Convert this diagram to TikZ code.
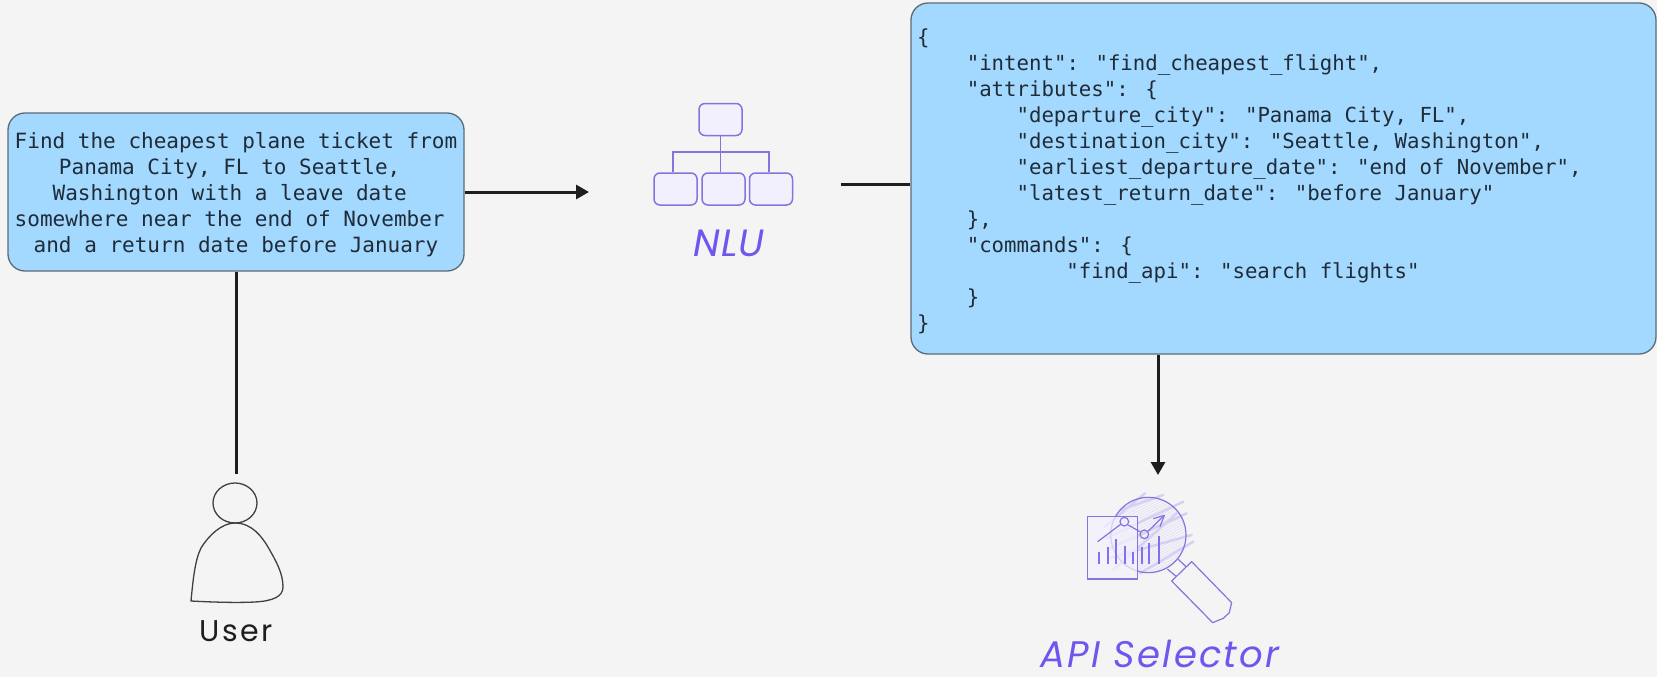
\documentclass[tikz,border=0pt]{standalone}
\usepackage{fontspec}
\usetikzlibrary{arrows.meta}
\newfontfamily\codefont{DejaVu Sans Mono}
\newfontfamily\handfont{Poppins}
\definecolor{bgcol}{HTML}{F4F4F4}
\definecolor{boxblue}{HTML}{A3D8FF}
\definecolor{boxedge}{HTML}{5C6B78}
\definecolor{inkcol}{HTML}{1E1E1E}
\definecolor{textcol}{HTML}{1F2C38}
\definecolor{violet}{HTML}{6E56EE}
\definecolor{iconline}{HTML}{8674DE}
\definecolor{iconfill}{HTML}{F3F0FD}
\definecolor{hatchcol}{HTML}{D6CFF3}
\newcommand{\ind}[1]{\hspace*{\dimexpr#1\dimexpr12.64pt\relax\relax}\kern0pt}
\newcommand{\jind}[1]{\hspace*{\dimexpr#1\dimexpr12.45pt\relax\relax}\kern0pt}
\tikzset{
  bluebox/.style={draw=boxedge,line width=1.3pt,fill=boxblue,rounded corners=17pt,inner sep=0pt,text=textcol,
    font=\codefont\fontsize{21}{26}\selectfont},
  link/.style={draw=inkcol,line width=3pt},
  arrowlink/.style={link,-{Triangle[length=13pt,width=14pt]}},
  orgbox/.style={draw=iconline,line width=1.5pt,fill=iconfill,rounded corners=6pt,inner sep=0pt,minimum height=32pt},
  orgline/.style={draw=iconline,line width=1.6pt},
  handlabel/.style={inner sep=0pt,text=violet},
  glass/.style={draw=iconline,line width=1.2pt},
  bar/.style={draw=violet!85!white,line width=2.2pt},
}
\begin{document}
\begin{tikzpicture}[x=1pt,y=-1pt]
\useasboundingbox (0,0) rectangle (1657,677);
\fill[bgcol] (0,0) rectangle (1657,677);

% text boxes
\node[bluebox,minimum width=456pt,minimum height=158pt,text width=452pt,align=flush center] (query) at (236,192) {%
\rule{0pt}{20.5pt}Find the cheapest plane ticket from\\
Panama City, FL to Seattle,\ind{1}\\
Washington with a leave date\ind{1}\\
somewhere near the end of November\ind{1}\\
and a return date before January};

\node[bluebox,minimum width=745pt,minimum height=351pt,text width=733pt,align=flush left,
      font=\codefont\fontsize{20.7}{26}\selectfont] (json) at (1283.5,178.5) {%
\rule{0pt}{20.5pt}\{\\
\jind{4}"intent": "find\_cheapest\_flight",\\
\jind{4}"attributes": \{\\
\jind{8}"departure\_city": "Panama City, FL",\\
\jind{8}"destination\_city": "Seattle, Washington",\\
\jind{8}"earliest\_departure\_date": "end of November",\\
\jind{8}"latest\_return\_date": "before January"\\
\jind{4}\},\\
\jind{4}"commands": \{\\
\jind{12}"find\_api": "search flights"\\
\jind{4}\}\\
\}};

% NLU icon
\node[orgbox,minimum width=43pt] (top) at (720.5,119.5) {};
\node[orgbox,minimum width=43pt] (b1) at (675.5,189) {};
\node[orgbox,minimum width=43pt] (b2) at (723.5,189) {};
\node[orgbox,minimum width=43pt] (b3) at (771,189) {};
\coordinate (busc) at (top.south |- 0,152);
\draw[orgline] (top.south) -- (busc);
\draw[orgline] (b1.north -| 673,0) -- (673,152) -- (769,152) -- (b3.north -| 769,0);
\draw[orgline] (busc) -- (b2.north -| busc);
\node[handlabel,font=\handfont\itshape\fontsize{38}{42}\selectfont\addfontfeature{LetterSpace=3}] (nlu) at (729,243) {NLU};

% user icon
\draw[draw=inkcol!85,line width=1.3pt] (235,503) ellipse [x radius=22,y radius=20];
\draw[draw=inkcol!85,line width=1.3pt,line join=round]
  (191,601) .. controls (193,580) and (195,560) .. (201,548)
  .. controls (209,535) and (222,523) .. (235,523)
  .. controls (252,523) and (262,537) .. (268,547)
  .. controls (276,561) and (283,573) .. (283,587)
  .. controls (283,597) and (272,601) .. (255,602)
  .. controls (235,603) and (210,602) .. (191,601) -- cycle;
\node[handlabel,text=inkcol,font=\handfont\fontsize{30}{34}\selectfont\addfontfeature{LetterSpace=8}] (user) at (236,631) {User};
\coordinate (userhead) at (236.5,474);

% API selector icon
\begin{scope}[shift={(1030,470)},x=0.3333pt,y=-0.3333pt]
  \begin{scope}
    \clip (355,195) circle [radius=113];
    \foreach \k in {-22,...,22}
      \draw[hatchcol!70!white,line width=0.6pt] (205,275+\k*8) -- ++(300,-160);
  \end{scope}
  \foreach \a/\b/\c/\d in {225/170/345/70, 228/205/460/95, 235/265/485/195, 330/310/490/215, 270/120/400/75, 250/300/440/130, 240/235/470/130}
    \draw[hatchcol,line width=2.4pt,line cap=round] (\a,\b) -- (\c,\d);
  \draw[glass] (355,195) circle [radius=113];
  \draw[glass] (445,268) -- (468,290);
  \draw[glass] (412,297) -- (437,318);
  \draw[glass,line join=round,fill=bgcol] (425,333) -- (485,275) -- (605,398) -- (598,428) -- (580,445) -- (548,458) -- cycle;
  \draw[glass,line width=1.6pt,fill=iconfill,fill opacity=0.75] (173,140) rectangle (322,327);
  \foreach \x/\t in {207/245,233/230,258/207,285/227,310/247,335/232,358/218,386/198}
    \draw[bar] (\x,\t) -- (\x,281);
  \draw[glass] (203,215) -- (272,163);
  \draw[glass] (295,165) -- (331,186);
  \draw[glass] (355,183) -- (403,136);
  \draw[glass,line join=round] (370,146) -- (403,136) -- (390,170);
  \draw[glass,line width=1.2pt] (283,155) circle [radius=13];
  \draw[glass,line width=1.2pt] (343,193) circle [radius=13];
\end{scope}
\node[handlabel,font=\handfont\itshape\fontsize{37}{40}\selectfont\addfontfeature{LetterSpace=6}] (api) at (1160,654) {API Selector};

% connectors
\coordinate (nluin) at (589,192);
\coordinate (nluout) at (841,184);
\coordinate (apiin) at (1158,475);
\draw[arrowlink] (query.east |- nluin) -- (nluin);
\draw[link] (nluout) -- (json.west |- nluout);
\draw[arrowlink] (json.south -| apiin) -- (apiin);
\draw[link] (query.south -| userhead) -- (userhead);
\end{tikzpicture}
\end{document}
